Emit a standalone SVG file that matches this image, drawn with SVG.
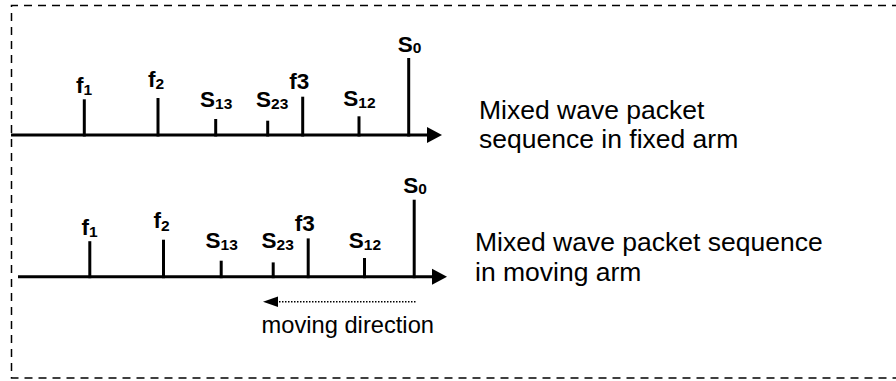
<svg xmlns="http://www.w3.org/2000/svg" width="896" height="381" viewBox="0 0 896 381">
<style>
.lbl{font-family:"Liberation Sans",Arial,sans-serif;font-weight:bold;font-size:22.5px;fill:#000}
.sub{font-size:15.5px}
.txt{font-family:"Liberation Sans",Arial,sans-serif;font-size:26.5px;fill:#000}
.tick{stroke:#000;stroke-width:3;fill:none}
.axis{stroke:#000;stroke-width:3;fill:none}
</style>
<rect width="896" height="381" fill="#fff"/>
<path d="M900 5.5 H11.5 V378 H900" fill="none" stroke="#000" stroke-width="1.5" stroke-dasharray="8 6"/>
<g id="connectors">
<line class="axis" x1="11" y1="135" x2="429" y2="135"/>
<polygon points="427,127 442,135 427,143" fill="#000"/>
<line class="axis" x1="18" y1="276.7" x2="434" y2="276.7"/>
<polygon points="432,268.7 447,276.7 432,284.7" fill="#000"/>
<line x1="276" y1="301.7" x2="416" y2="301.7" stroke="#000" stroke-width="1.5" stroke-dasharray="1.5 1.5"/>
<polygon points="278,296.5 263,301.7 278,307" fill="#000"/>
</g>
<g id="fixed-arm">
<g id="f1-fixed"><line class="tick" x1="84.3" y1="99.3" x2="84.3" y2="136.5"/><text class="lbl" x="76" y="93.3">f<tspan class="sub" dy="2">1</tspan></text></g>
<g id="f2-fixed"><line class="tick" x1="158" y1="98" x2="158" y2="136.5"/><text class="lbl" x="148" y="86.7">f<tspan class="sub" dy="2.5">2</tspan></text></g>
<g id="s13-fixed"><line class="tick" x1="215.7" y1="119" x2="215.7" y2="136.5"/><text class="lbl" x="200" y="106.7">S<tspan class="sub" dy="2">13</tspan></text></g>
<g id="s23-fixed"><line class="tick" x1="267.7" y1="120.7" x2="267.7" y2="136.5"/><text class="lbl" x="256" y="106.5">S<tspan class="sub" dy="2">23</tspan></text></g>
<g id="f3-fixed"><line class="tick" x1="302.7" y1="96.7" x2="302.7" y2="136.5"/><text class="lbl" x="289.3" y="89.3">f3</text></g>
<g id="s12-fixed"><line class="tick" x1="359" y1="116.3" x2="359" y2="136.5"/><text class="lbl" x="343.3" y="106">S<tspan class="sub" dy="2">12</tspan></text></g>
<g id="s0-fixed"><line class="tick" x1="408.7" y1="58" x2="408.7" y2="136.5"/><text class="lbl" x="397.7" y="51.7">S<tspan class="sub" dy="1">0</tspan></text></g>
<g id="caption-fixed"><text class="txt" x="479" y="119">Mixed wave packet</text><text class="txt" x="479" y="148">sequence in fixed arm</text></g>
</g>
<g id="moving-arm">
<g id="f1-moving"><line class="tick" x1="89.8" y1="241.2" x2="89.8" y2="278.2"/><text class="lbl" x="81.5" y="235">f<tspan class="sub" dy="2">1</tspan></text></g>
<g id="f2-moving"><line class="tick" x1="163.5" y1="239.7" x2="163.5" y2="278.2"/><text class="lbl" x="153.5" y="228.4">f<tspan class="sub" dy="2.5">2</tspan></text></g>
<g id="s13-moving"><line class="tick" x1="221.2" y1="260.7" x2="221.2" y2="278.2"/><text class="lbl" x="205.5" y="248.4">S<tspan class="sub" dy="2">13</tspan></text></g>
<g id="s23-moving"><line class="tick" x1="273.2" y1="262.4" x2="273.2" y2="278.2"/><text class="lbl" x="261.5" y="248.2">S<tspan class="sub" dy="2">23</tspan></text></g>
<g id="f3-moving"><line class="tick" x1="308.2" y1="238.4" x2="308.2" y2="278.2"/><text class="lbl" x="294.8" y="231">f3</text></g>
<g id="s12-moving"><line class="tick" x1="364.5" y1="258" x2="364.5" y2="278.2"/><text class="lbl" x="348.8" y="247.7">S<tspan class="sub" dy="2">12</tspan></text></g>
<g id="s0-moving"><line class="tick" x1="414.2" y1="199.7" x2="414.2" y2="278.2"/><text class="lbl" x="403.2" y="193.4">S<tspan class="sub" dy="1">0</tspan></text></g>
<g id="caption-moving"><text class="txt" x="475" y="251">Mixed wave packet sequence</text><text class="txt" x="475" y="281">in moving arm</text></g>
<g id="direction-label"><text class="txt" style="font-size:23.7px" x="261.5" y="332.5">moving direction</text></g>
</g>
</svg>
